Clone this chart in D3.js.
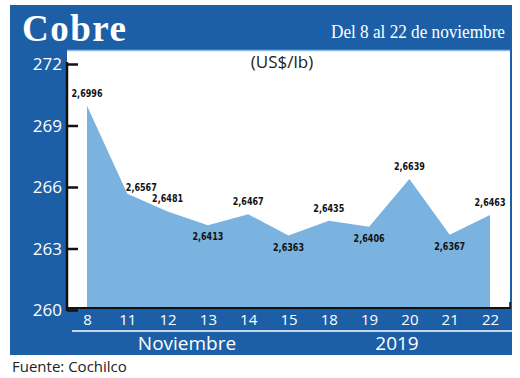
<!DOCTYPE html>
<html>
<head>
<meta charset="utf-8">
<script src="https://cdn.jsdelivr.net/npm/d3@7"></script>
<style>
  body { margin: 0; background: #fff; }
  svg { display: block; }
</style>
</head>
<body>
<div id="chart"></div>
<script>
// datos
const days = ["8", "11", "12", "13", "14", "15", "18", "19", "20", "21", "22"];
const prices = [2.6996, 2.6567, 2.6481, 2.6413, 2.6467, 2.6363, 2.6435, 2.6406, 2.6639, 2.6367, 2.6463];
const labelPos = ["up", "right", "up", "down", "up", "down", "up", "down", "up", "down", "up"];
const yTicks = [260, 263, 266, 269, 272];

const W = 520, H = 378;
const blue = "#1d5fa7";

let svg = d3.select("#chart").append("svg")
    .attr("width", W)
    .attr("height", H);

// fondo azul y area blanca
svg.append("rect").attr("x", 10).attr("y", 5).attr("width", 502).attr("height", 350).attr("fill", blue);
svg.append("rect").attr("x", 67).attr("y", 50).attr("width", 443).attr("height", 258).attr("fill", "#fff");
svg.append("line").attr("x1", 67).attr("x2", 510).attr("y1", 50.5).attr("y2", 50.5)
    .attr("stroke", "#8dbde6").attr("stroke-width", 1.5);

// titulos
svg.append("text").attr("x", 22).attr("y", 41)
    .attr("font-family", "Liberation Serif").attr("font-weight", "bold")
    .attr("font-size", 37).attr("fill", "#fff").attr("letter-spacing", 1.5)
    .text("Cobre");
svg.append("text").attr("x", 505).attr("y", 38).attr("text-anchor", "end")
    .attr("font-family", "Liberation Serif").attr("font-size", 18).attr("fill", "#fff")
    .attr("textLength", 174).attr("lengthAdjust", "spacingAndGlyphs")
    .text("Del 8  al 22 de noviembre");
svg.append("text").attr("x", 282).attr("y", 68).attr("text-anchor", "middle")
    .attr("font-family", "Open Sans").attr("font-size", 17).attr("fill", "#222")
    .text("(US$/lb)");

const x = d3.scalePoint().domain(days).range([87, 490]);
const y = d3.scaleLinear().domain([260, 272]).range([310, 64]);

const data = days.map((d, i) => ({ day: d, v: prices[i] * 100, pos: labelPos[i], label: prices[i].toFixed(4).replace(".", ",") }));

const area = d3.area()
    .x(d => x(d.day))
    .y0(308)
    .y1(d => y(d.v));

svg.append("path").datum(data)
    .attr("d", area)
    .attr("fill", "#7ab3df");

// eje y
const yAxis = svg.append("g").attr("transform", "translate(67,0)")
    .call(d3.axisRight(y).tickValues(yTicks).tickSize(11).tickFormat(""));
yAxis.select(".domain").remove();
yAxis.selectAll(".tick line").attr("stroke", "#111").attr("stroke-width", 2.5);
svg.append("line").attr("x1", 67).attr("x2", 67).attr("y1", 62).attr("y2", 311)
    .attr("stroke", "#111").attr("stroke-width", 2.5);

svg.selectAll(".ylab").data(yTicks).enter().append("text")
    .attr("class", "ylab")
    .attr("x", 62).attr("y", d => y(d) + 6)
    .attr("text-anchor", "end")
    .attr("font-family", "Open Sans").attr("font-size", 17).attr("fill", "#fff")
    .text(d => d);

// eje x
svg.append("line").attr("x1", 66).attr("x2", 510).attr("y1", 308).attr("y2", 308)
    .attr("stroke", "#111").attr("stroke-width", 2);
svg.append("line").attr("x1", 510).attr("x2", 510).attr("y1", 302).attr("y2", 309)
    .attr("stroke", "#111").attr("stroke-width", 1.5);

const xAxis = svg.append("g").attr("transform", "translate(0,308)")
    .call(d3.axisBottom(x).tickSize(0).tickPadding(4));
xAxis.select(".domain").remove();
xAxis.selectAll("text")
    .attr("font-family", "Open Sans").attr("font-size", 15).attr("fill", "#fff")
    .attr("dy", "0.85em");

svg.append("line").attr("x1", 72).attr("x2", 512).attr("y1", 331).attr("y2", 331)
    .attr("stroke", "#fff").attr("stroke-width", 1.5);
svg.append("text").attr("x", 187).attr("y", 350).attr("text-anchor", "middle")
    .attr("font-family", "Open Sans").attr("font-size", 19).attr("fill", "#fff")
    .text("Noviembre");
svg.append("text").attr("x", 397).attr("y", 350).attr("text-anchor", "middle")
    .attr("font-family", "Open Sans").attr("font-size", 19).attr("fill", "#fff")
    .text("2019");

// etiquetas de valores
svg.selectAll(".vlab").data(data).enter().append("text")
    .attr("class", "vlab")
    .attr("x", d => d.pos === "right" ? x(d.day) + 14 : x(d.day))
    .attr("y", d => d.pos === "up" ? y(d.v) - 9 : d.pos === "right" ? y(d.v) - 3 : y(d.v) + 15)
    .attr("text-anchor", "middle")
    .attr("font-family", "DejaVu Sans Condensed, DejaVu Sans").attr("font-stretch", "condensed")
    .attr("font-weight", "bold").attr("font-size", 10).attr("fill", "#111")
    .attr("textLength", 31).attr("lengthAdjust", "spacingAndGlyphs")
    .text(d => d.label);

svg.append("text").attr("x", 12).attr("y", 372)
    .attr("font-family", "Open Sans").attr("font-size", 15).attr("fill", "#222")
    .text("Fuente: Cochilco");
</script>
</body>
</html>
